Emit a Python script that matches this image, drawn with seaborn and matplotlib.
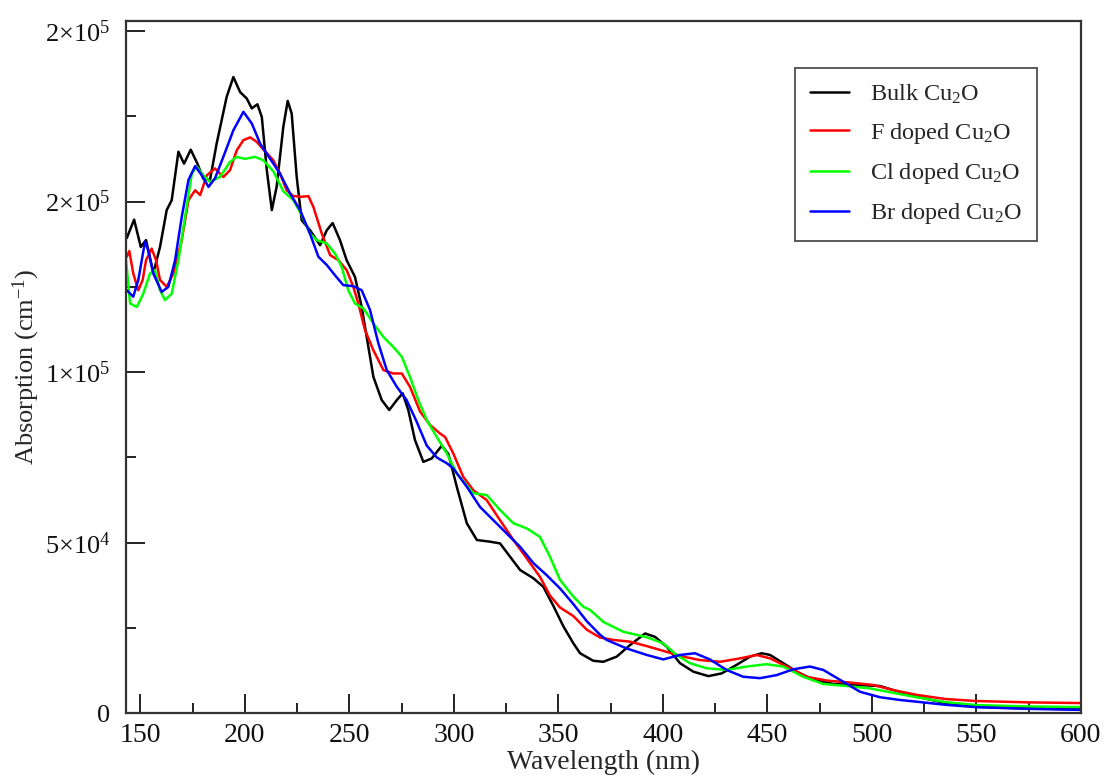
import matplotlib
matplotlib.use("Agg")
import matplotlib.pyplot as plt
from matplotlib.ticker import MultipleLocator, FixedLocator, FixedFormatter
import pandas as pd
import seaborn as sns

# Absorption spectra (wavelength in nm, absorption in 10^3 cm^-1)
bulk_wl = [143.5, 147.0, 150.2, 152.7, 156.2, 159.4, 162.6, 165.0, 168.2, 170.9,
           174.1, 177.3, 180.1, 183.3, 186.5, 191.3, 194.5, 197.7, 200.9, 203.3,
           206.0, 208.1, 210.5, 212.9, 215.2, 218.4, 220.5, 222.4, 224.8, 227.2,
           231.2, 236.0, 239.2, 242.0, 245.5, 248.7, 252.7, 255.9, 258.3, 261.5,
           265.5, 269.1, 272.7, 275.5, 278.2, 281.4, 285.4, 289.4, 294.2, 297.4,
           301.4, 306.2, 311.0, 317.3, 322.1, 326.9, 331.7, 338.0, 342.8, 347.6,
           352.4, 357.2, 360.4, 366.7, 371.5, 377.9, 384.3, 391.5, 396.3, 401.9,
           408.2, 414.6, 421.8, 428.2, 435.3, 441.7, 447.3, 451.3, 457.6, 464.1,
           472.0, 481.6, 492.8, 503.9, 511.9, 521.5, 535.0, 550.0, 575.0, 600.0]
bulk_abs = [139.3, 144.7, 136.7, 138.7, 129.0, 136.7, 147.5, 150.4, 164.6, 161.1,
            165.2, 161.1, 156.7, 156.3, 167.0, 180.7, 186.5, 182.1, 180.2, 177.3,
            178.5, 174.8, 159.2, 147.5, 154.3, 171.9, 179.5, 175.8, 157.2, 144.5,
            141.6, 137.2, 141.6, 143.7, 138.7, 132.8, 127.9, 119.1, 110.3, 98.6,
            91.8, 88.9, 91.8, 93.8, 88.9, 80.1, 73.7, 74.7, 78.4, 76.0,
            66.4, 55.7, 50.8, 50.3, 49.8, 45.9, 42.0, 39.6, 37.1, 31.5,
            25.5, 20.5, 17.6, 15.4, 15.1, 16.6, 20.0, 23.4, 22.4, 19.5,
            14.7, 12.2, 10.9, 11.7, 14.2, 16.6, 17.6, 17.1, 14.7, 12.2,
            9.8, 8.6, 8.3, 8.0, 6.5, 4.9, 3.0, 1.9, 1.4, 1.2]

f_wl = [143.5, 144.7, 146.6, 149.0, 151.1, 152.7, 155.4, 157.5, 159.4, 162.6,
        165.8, 169.8, 173.0, 176.2, 178.6, 181.8, 185.7, 189.7, 192.9, 196.1,
        199.3, 202.5, 205.7, 208.8, 213.6, 216.8, 220.0, 223.2, 227.2, 230.4,
        232.8, 236.8, 240.8, 244.8, 248.7, 251.9, 254.3, 257.5, 261.5, 266.3,
        271.0, 275.1, 279.0, 283.8, 288.6, 293.4, 295.8, 299.7, 304.5, 309.3,
        315.7, 322.1, 328.5, 334.9, 341.2, 346.0, 350.8, 357.2, 363.6, 370.0,
        376.3, 384.3, 392.3, 401.9, 409.8, 417.8, 427.4, 437.0, 444.9, 451.3,
        459.3, 468.8, 478.4, 489.6, 500.7, 510.3, 521.5, 535.0, 550.0, 575.0, 600.0]
f_abs = [133.8, 135.5, 128.9, 124.0, 127.0, 132.8, 136.2, 132.8, 127.0, 125.0,
         128.9, 138.7, 150.4, 153.3, 151.9, 157.7, 159.7, 157.2, 159.2, 165.0,
         168.0, 168.8, 167.5, 165.3, 162.1, 158.2, 153.3, 151.6, 151.4, 151.6,
         148.4, 140.6, 134.3, 132.8, 129.9, 125.0, 120.1, 112.3, 106.4, 100.6,
         99.6, 99.6, 95.7, 88.5, 84.5, 82.0, 81.0, 76.2, 69.3, 65.4,
         62.5, 56.6, 50.8, 45.4, 40.0, 34.5, 31.0, 28.5, 24.5, 22.2,
         21.5, 21.0, 19.7, 18.0, 16.6, 15.6, 15.1, 16.1, 17.1, 16.1,
         13.7, 10.7, 9.6, 9.0, 8.3, 6.8, 5.4, 4.2, 3.6, 3.2, 3.0]

cl_wl = [143.0, 145.1, 148.3, 151.4, 154.6, 157.0, 159.4, 161.8, 165.0, 168.2,
         171.4, 174.6, 177.0, 180.1, 183.3, 188.1, 192.9, 196.1, 200.1, 204.9,
         208.8, 213.6, 218.4, 223.2, 227.2, 231.2, 234.4, 239.2, 243.1, 246.3,
         249.5, 252.7, 256.7, 261.5, 266.3, 271.0, 275.1, 279.0, 283.0, 287.0,
         291.8, 296.6, 301.4, 309.3, 315.7, 322.1, 328.5, 334.9, 341.2, 346.0,
         350.8, 357.2, 362.0, 365.2, 371.5, 381.1, 392.3, 400.2, 406.6, 413.0,
         420.9, 430.5, 440.1, 449.6, 457.6, 467.2, 476.8, 488.0, 499.1, 510.3,
         521.5, 535.0, 550.0, 575.0, 600.0]
cl_abs = [133.8, 120.1, 119.1, 123.0, 128.9, 129.9, 124.0, 121.1, 123.0, 132.8,
          145.5, 158.2, 160.2, 157.7, 155.8, 157.2, 161.6, 163.1, 162.5, 163.1,
          162.1, 158.9, 153.0, 150.4, 146.0, 140.6, 138.7, 137.7, 134.8, 130.9,
          124.0, 120.1, 118.7, 114.3, 110.3, 107.4, 104.5, 98.6, 91.8, 86.0,
          81.0, 76.2, 70.3, 64.5, 64.0, 59.6, 55.7, 54.2, 51.7, 45.9,
          39.1, 34.2, 31.2, 30.3, 26.8, 23.9, 22.3, 20.5, 17.1, 14.7,
          13.2, 12.7, 13.7, 14.4, 13.7, 10.7, 8.6, 8.0, 7.3, 6.0,
          4.7, 3.3, 2.4, 2.0, 1.8]

br_wl = [143.5, 146.6, 149.0, 152.2, 153.8, 156.2, 160.2, 163.4, 166.6, 169.8,
         173.0, 176.2, 179.4, 182.6, 185.7, 189.7, 194.5, 199.3, 203.3, 207.3,
         212.1, 216.8, 221.6, 226.4, 231.2, 235.2, 239.2, 243.1, 247.1, 251.9,
         255.9, 259.9, 263.9, 267.9, 272.7, 277.4, 282.2, 287.0, 291.8, 296.6,
         299.7, 306.2, 312.5, 318.9, 325.3, 331.7, 338.1, 344.4, 350.8, 357.2,
         363.6, 370.0, 373.1, 382.7, 392.3, 400.2, 408.2, 415.4, 422.5, 430.5,
         438.5, 446.5, 454.5, 462.4, 470.4, 476.8, 484.8, 494.4, 504.0, 513.5,
         521.5, 535.0, 550.0, 575.0, 600.0]
br_abs = [124.0, 122.1, 127.0, 138.2, 135.7, 128.9, 123.5, 125.0, 132.8, 145.5,
          156.3, 160.4, 157.7, 154.3, 156.8, 163.1, 170.9, 176.3, 172.9, 167.0,
          162.5, 158.2, 152.4, 147.5, 140.5, 133.8, 131.4, 128.4, 125.5, 125.2,
          124.0, 118.2, 108.4, 100.6, 95.7, 91.8, 85.5, 78.5, 75.0, 73.3,
          71.8, 66.4, 60.5, 56.6, 52.7, 48.8, 44.0, 40.5, 36.6, 32.0,
          27.0, 23.0, 21.5, 19.0, 17.1, 15.8, 17.1, 17.6, 15.8, 12.7,
          10.7, 10.3, 11.2, 12.9, 13.7, 12.7, 9.8, 6.3, 4.7, 3.9,
          3.4, 2.5, 1.8, 1.3, 1.0]

series_names = ["Bulk Cu$_2$O", "F doped Cu$_2$O", "Cl doped Cu$_2$O", "Br doped Cu$_2$O"]
series_colors = ["#000000", "#ff0000", "#00ff00", "#0000ff"]

x_ticks = [150, 200, 250, 300, 350, 400, 450, 500, 550, 600]
y_ticks = [0, 50000, 100000, 150000, 200000]
y_tick_labels = ["0", "5×10$^{4}$", "1×10$^{5}$", "2×10$^{5}$", "2×10$^{5}$"]

frames = []
for name, wl, ab in zip(series_names,
                        [bulk_wl, f_wl, cl_wl, br_wl],
                        [bulk_abs, f_abs, cl_abs, br_abs]):
    frames.append(pd.DataFrame({"wl": wl, "absorp": [v * 1000 for v in ab], "sample": name}))
df = pd.concat(frames, ignore_index=True)

sns.set_style("ticks")
plt.rcParams["font.family"] = ["Liberation Serif", "DejaVu Serif"]
plt.rcParams["mathtext.fontset"] = "custom"
plt.rcParams["mathtext.rm"] = "Liberation Serif"
plt.rcParams["mathtext.it"] = "Liberation Serif:italic"

fig = plt.figure(figsize=(11.05, 7.76), dpi=100)
ax = fig.add_axes([0.1138, 0.0808, 0.8643, 0.8925])

sns.lineplot(data=df, x="wl", y="absorp", hue="sample", hue_order=series_names,
             palette=dict(zip(series_names, series_colors)), sort=False,
             estimator=None, linewidth=1.8, ax=ax)
for ln in ax.get_lines():
    ln.set_solid_joinstyle("round")
    ln.set_solid_capstyle("round")

ax.set_xlim(143, 600)
ax.set_ylim(0, 203000)
ax.xaxis.set_major_locator(FixedLocator(x_ticks))
ax.xaxis.set_minor_locator(MultipleLocator(25))
ax.yaxis.set_major_locator(FixedLocator(y_ticks))
ax.yaxis.set_major_formatter(FixedFormatter(y_tick_labels))
ax.yaxis.set_minor_locator(MultipleLocator(25000))

ax.tick_params(axis="both", which="major", direction="in", length=14, width=1.4,
               colors="#222222", labelcolor="#111111")
ax.tick_params(axis="both", which="minor", direction="in", length=7, width=1.4,
               colors="#222222")
ax.tick_params(axis="x", which="major", pad=7, labelsize=20)
ax.tick_params(axis="y", which="major", pad=11, labelsize=19)
ax.tick_params(top=False, right=False, which="both")

for sp in ax.spines.values():
    sp.set_visible(True)
    sp.set_linewidth(1.6)
    sp.set_color("#333333")

ax.set_xlabel("Wavelength (nm)", fontsize=20, labelpad=1)
ax.set_ylabel("Absorption (cm$^{-1}$)", fontsize=19, labelpad=2)

leg = ax.legend(loc="upper left", bbox_to_anchor=(0.7008, 0.9317), borderaxespad=0,
                fontsize=17.5, frameon=True, fancybox=False, edgecolor="#222222",
                handlelength=1.6, handletextpad=0.9, labelspacing=0.62,
                borderpad=0.6)
leg.get_frame().set_linewidth(1.3)
for line in leg.get_lines():
    line.set_linewidth(1.8)

fig.savefig("out.png", dpi=100, facecolor="white")
